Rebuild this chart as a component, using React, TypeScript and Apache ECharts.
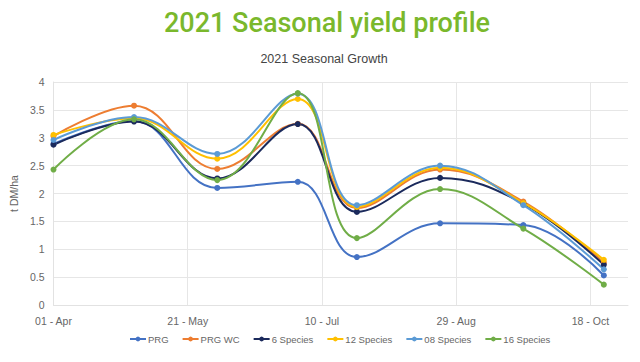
import React, { useEffect, useRef } from "react";
import * as echarts from "echarts";

const dates = ["2021-04-01", "2021-05-01", "2021-06-01", "2021-07-01", "2021-07-23", "2021-08-23", "2021-09-23", "2021-10-23"];
const seriesNames = ["PRG", "PRG WC", "6 Species", "12 Species", "08 Species", "16 Species"];
const prg = [2.89, 3.30, 2.10, 2.21, 0.86, 1.465, 1.435, 0.53];
const prgWc = [3.03, 3.575, 2.44, 3.25, 1.74, 2.43, 1.855, 0.76];
const sp6 = [2.875, 3.29, 2.27, 3.245, 1.67, 2.28, 1.82, 0.72];
const sp12 = [3.05, 3.35, 2.625, 3.695, 1.76, 2.46, 1.83, 0.81];
const sp08 = [2.96, 3.37, 2.71, 3.79, 1.79, 2.50, 1.79, 0.64];
const sp16 = [2.43, 3.33, 2.24, 3.80, 1.20, 2.08, 1.37, 0.365];
const colors = ["#4472C4", "#ED7D31", "#1B2A5C", "#FFC000", "#5B9BD5", "#70AD47"];
const startDate = "2021-04-01";
const monthNames = ["Jan", "Feb", "Mar", "Apr", "May", "Jun", "Jul", "Aug", "Sep", "Oct", "Nov", "Dec"];

const DAY = 86400000;
const t0 = Date.parse(startDate + "T00:00:00Z");
const dayOffset = (d: string) => Math.round((Date.parse(d + "T00:00:00Z") - t0) / DAY);
const fmt = (v: number) => {
  const d = new Date(t0 + v * DAY);
  const dd = String(d.getUTCDate()).padStart(2, "0");
  return dd + " - " + monthNames[d.getUTCMonth()];
};

export default function App() {
  const ref = useRef<HTMLDivElement>(null);
  useEffect(() => {
    if (!ref.current) return;
    const chart = echarts.init(ref.current, undefined, { renderer: "svg" });
    const all = [prg, prgWc, sp6, sp12, sp08, sp16];
    const fontFamily = "'Liberation Sans', Arial, sans-serif";
    chart.setOption({
      animation: false,
      backgroundColor: "#ffffff",
      color: colors,
      textStyle: { fontFamily },
      graphic: [
        {
          type: "text",
          x: 327,
          y: 23,
          style: {
            text: "2021 Seasonal yield profile",
            fontSize: 27,
            fontWeight: 500,
            fontFamily: "Roboto, 'Liberation Sans', sans-serif",
            fill: "#7AB82C",
            textAlign: "center",
            textVerticalAlign: "middle",
            align: "center",
            verticalAlign: "middle",
          },
        },
        {
          type: "text",
          x: 324,
          y: 59,
          style: {
            text: "2021 Seasonal Growth",
            fontSize: 12.5,
            fontFamily,
            fill: "#444444",
            textAlign: "center",
            textVerticalAlign: "middle",
            align: "center",
            verticalAlign: "middle",
          },
        },
      ],
      grid: { left: 53, right: 12, top: 82, bottom: 57, containLabel: false },
      legend: {
        bottom: 13,
        left: 124,
        width: 500,
        itemWidth: 16,
        itemHeight: 6,
        itemGap: 13,
        textStyle: { fontSize: 9.5, color: "#666666", fontFamily, padding: [0, 0, 0, -3] },
        data: seriesNames,
      },
      xAxis: {
        type: "value",
        min: 0,
        max: 214,
        interval: 50,
        axisLine: { show: true, lineStyle: { color: "#e2e2e2" } },
        axisTick: { show: false },
        splitLine: { show: true, showMaxLine: false, lineStyle: { color: "#e6e6e6" } },
        axisLabel: {
          color: "#666666",
          fontSize: 10.5,
          margin: 10,
          showMaxLabel: false,
          formatter: (v: number) => (v % 50 === 0 ? fmt(v) : ""),
        },
      },
      yAxis: {
        type: "value",
        min: 0,
        max: 4,
        interval: 0.5,
        name: "t DM/ha",
        nameLocation: "middle",
        nameGap: 30,
        nameTextStyle: { color: "#666666", fontSize: 10.5, fontFamily },
        axisLine: { show: true, lineStyle: { color: "#e2e2e2" } },
        axisTick: { show: false },
        splitLine: { show: true, lineStyle: { color: "#e6e6e6" } },
        axisLabel: { color: "#666666", fontSize: 10.5, margin: 9 },
      },
      series: seriesNames.map((name, i) => ({
        name,
        type: "line",
        smooth: 0.4,
        symbol: "circle",
        symbolSize: 6,
        lineStyle: { width: 2, color: colors[i] },
        itemStyle: { color: colors[i] },
        data: dates.map((d, j) => [dayOffset(d), all[i][j]]),
      })),
    });
    return () => chart.dispose();
  }, []);
  return <div ref={ref} style={{ position: "fixed", left: 0, top: 0, width: 640, height: 362 }} />;
}
